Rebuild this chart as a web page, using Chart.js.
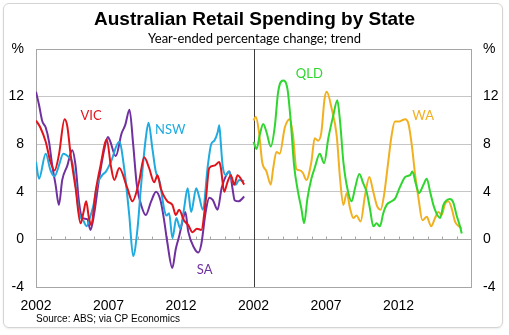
<!DOCTYPE html>
<html>
<head>
<meta charset="utf-8">
<script src="https://cdn.jsdelivr.net/npm/chart.js@4.4.0/dist/chart.umd.min.js"></script>
<style>
  html, body { margin: 0; padding: 0; background: #fff; }
  #wrap { position: relative; width: 509px; height: 335px; }
  #frame {
    position: absolute; left: 3px; top: 3px; width: 498px; height: 323px;
    border: 1px solid #d4d4d4; border-radius: 6px;
    box-shadow: 0 1px 2px rgba(0, 0, 0, 0.08);
  }
  canvas { position: absolute; left: 0; top: 0; }
</style>
</head>
<body>
<div id="wrap">
  <div id="frame"></div>
  <canvas id="retail" width="509" height="335"></canvas>
</div>
<script>
// year-ended % change, trend; [year, value]
const vic = [
  [2002.0, 10.0], [2002.3, 9.4], [2002.67, 8.2], [2003.0, 6.5], [2003.28, 5.8],
  [2003.58, 7.1], [2003.97, 10.1], [2004.16, 9.5], [2004.39, 7.1], [2004.73, 4.3],
  [2005.07, 1.35], [2005.28, 2.3], [2005.46, 3.2], [2005.65, 1.8], [2005.81, 1.2],
  [2006.11, 4.0], [2006.45, 6.2], [2006.88, 8.4], [2007.16, 6.2], [2007.4, 5.0],
  [2007.74, 6.0], [2008.3, 4.3], [2008.65, 3.2], [2009.1, 4.8], [2009.46, 6.9],
  [2009.8, 6.0], [2010.15, 4.8], [2010.38, 5.4], [2010.6, 4.3], [2011.06, 3.2],
  [2011.41, 2.9], [2011.64, 2.05], [2011.87, 2.5], [2012.2, 1.6], [2012.5, 1.2],
  [2012.8, 0.6], [2013.1, 0.9], [2013.4, 0.8], [2013.7, 3.2], [2013.95, 6.0],
  [2014.3, 6.2], [2014.64, 6.5], [2014.75, 6.0], [2014.98, 4.0], [2015.2, 4.8],
  [2015.44, 5.4], [2015.67, 4.6], [2015.9, 5.4], [2016.36, 4.6]
];
const nsw = [
  [2002.0, 6.5], [2002.21, 5.1], [2002.67, 7.2], [2003.0, 5.8], [2003.28, 5.3],
  [2003.58, 6.2], [2003.88, 7.2], [2004.27, 6.9], [2004.5, 6.5], [2004.73, 4.6],
  [2004.96, 2.3], [2005.3, 1.5], [2005.48, 1.1], [2005.71, 1.8], [2005.95, 2.8],
  [2006.22, 4.6], [2006.57, 5.4], [2006.82, 5.7], [2007.16, 6.5], [2007.74, 8.2],
  [2008.08, 6.0], [2008.43, 2.05], [2008.7, -1.4], [2009.0, 0.9], [2009.23, 4.3],
  [2009.57, 8.5], [2009.76, 9.8], [2010.03, 7.6], [2010.26, 5.7], [2010.54, 4.8],
  [2010.83, 2.6], [2011.0, 2.0], [2011.18, 2.2], [2011.41, 0.1], [2011.68, 1.8],
  [2011.95, 0.9], [2012.2, 2.5], [2012.46, 4.3], [2012.7, 2.3], [2013.05, 4.3],
  [2013.27, 3.5], [2013.5, 2.5], [2013.85, 6.2], [2014.08, 8.0], [2014.3, 8.3],
  [2014.53, 9.0], [2014.64, 9.6], [2014.75, 8.0], [2014.87, 6.2], [2015.1, 5.4],
  [2015.3, 5.7], [2015.55, 4.9], [2015.78, 4.6], [2016.0, 5.0], [2016.36, 4.9]
];
const sa = [
  [2002.0, 12.4], [2002.21, 11.3], [2002.44, 9.9], [2002.67, 9.4], [2002.9, 8.2],
  [2003.12, 6.2], [2003.35, 4.6], [2003.58, 2.9], [2003.81, 5.0], [2004.16, 6.2],
  [2004.5, 7.5], [2004.73, 6.2], [2004.96, 3.2], [2005.19, 1.8], [2005.53, 1.7],
  [2005.76, 0.8], [2005.99, 2.0], [2006.34, 5.0], [2006.68, 7.4], [2006.96, 8.6],
  [2007.1, 8.3], [2007.5, 7.0], [2007.9, 8.9], [2008.15, 9.6], [2008.45, 10.9],
  [2008.7, 8.0], [2008.95, 4.6], [2009.3, 2.7], [2009.57, 2.05], [2009.94, 3.2],
  [2010.28, 4.0], [2010.6, 3.2], [2010.85, 1.5], [2011.05, -0.2], [2011.4, -2.4],
  [2011.64, -0.8], [2011.9, 0.4], [2012.1, 1.5], [2012.3, 2.3], [2012.5, 0.65],
  [2012.9, -0.7], [2013.2, -1.1], [2013.4, -0.4], [2013.7, 2.3], [2013.95, 3.5],
  [2014.2, 3.3], [2014.52, 2.5], [2014.8, 4.3], [2015.12, 5.4], [2015.35, 5.7],
  [2015.55, 4.3], [2015.7, 3.3], [2015.98, 3.2], [2016.36, 3.6]
];
const qld = [
  [2002.0, 8.2], [2002.21, 7.6], [2002.45, 8.9], [2002.67, 9.7], [2002.9, 9.0],
  [2003.19, 7.8], [2003.47, 9.5], [2003.7, 12.4], [2004.04, 13.35], [2004.34, 12.65],
  [2004.57, 9.9], [2004.8, 6.2], [2005.07, 4.0], [2005.3, 2.6], [2005.49, 1.35],
  [2005.72, 3.45], [2005.99, 5.1], [2006.22, 6.0], [2006.57, 7.2], [2006.87, 6.4],
  [2007.16, 8.5], [2007.5, 10.4], [2007.78, 11.7], [2007.97, 9.9], [2008.2, 6.5],
  [2008.47, 4.3], [2008.77, 3.2], [2009.0, 4.3], [2009.3, 5.5], [2009.57, 4.7],
  [2009.8, 4.0], [2010.03, 2.6], [2010.26, 1.1], [2010.49, 1.35], [2010.72, 1.1],
  [2010.95, 2.2], [2011.18, 2.9], [2011.52, 3.2], [2011.77, 3.45], [2012.1, 4.4],
  [2012.46, 5.25], [2012.8, 5.4], [2012.96, 5.7], [2013.19, 4.7], [2013.42, 3.9],
  [2013.72, 4.6], [2013.95, 5.1], [2014.18, 4.0], [2014.48, 2.6], [2014.87, 1.8],
  [2015.1, 2.9], [2015.55, 3.4], [2015.78, 3.1], [2016.0, 2.05], [2016.24, 1.1],
  [2016.36, 0.5]
];
const wa = [
  [2002.0, 10.0], [2002.16, 10.3], [2002.38, 9.0], [2002.6, 6.5], [2002.9, 5.7],
  [2003.19, 4.6], [2003.35, 5.9], [2003.58, 7.35], [2003.81, 7.2], [2004.16, 9.4],
  [2004.5, 10.1], [2004.73, 8.7], [2004.96, 5.9], [2005.19, 5.8], [2005.4, 5.6],
  [2005.65, 5.0], [2005.99, 6.5], [2006.22, 8.5], [2006.45, 8.3], [2006.68, 9.0],
  [2006.9, 11.8], [2007.05, 12.4], [2007.39, 11.0], [2007.74, 8.7], [2007.97, 5.1],
  [2008.2, 2.9], [2008.43, 3.9], [2008.66, 2.6], [2008.88, 1.8], [2009.11, 2.0],
  [2009.39, 1.5], [2009.69, 3.7], [2009.99, 5.25], [2010.26, 4.0], [2010.54, 2.75],
  [2010.77, 2.5], [2011.0, 3.7], [2011.29, 6.5], [2011.52, 8.7], [2011.75, 9.9],
  [2012.05, 9.9], [2012.23, 10.0], [2012.46, 10.1], [2012.69, 9.7], [2012.92, 7.9],
  [2013.15, 5.4], [2013.38, 3.45], [2013.65, 1.6], [2013.95, 1.9], [2014.25, 1.1],
  [2014.52, 1.8], [2014.75, 2.3], [2014.98, 2.05], [2015.21, 3.0], [2015.44, 3.2],
  [2015.67, 2.6], [2015.9, 1.5], [2016.17, 1.1], [2016.36, 0.9]
];

const tickYears = [2002, 2007, 2012];
const yTicks = [-4, 0, 4, 8, 12, 16];
const firstYear = 2002;
const panelShift = 15; // right panel re-uses the same years, moved past the divider

const colours = {
  VIC: '#e2141b', NSW: '#1fabe0', SA: '#7030a0', QLD: '#2fd62f', WA: '#f1b020'
};

// where each state's name sits, in axis units
const stateLabels = [
  { text: 'VIC', year: 2005.8, value: 10.4 },
  { text: 'NSW', year: 2011.26, value: 9.25 },
  { text: 'SA', year: 2013.63, value: -2.55 },
  { text: 'QLD', year: 2005.85 + panelShift, value: 13.9 },
  { text: 'WA', year: 2013.7 + panelShift, value: 10.4 }
];

const axisFont = { family: "'Liberation Sans', Arial, sans-serif", size: 14 };
const borderGrey = '#a6a6a6';

function line(label, series, shift) {
  return {
    label,
    data: series.map(([yr, v]) => ({ x: yr + shift, y: v })),
    borderColor: colours[label],
    borderWidth: 2,
    pointRadius: 0,
    cubicInterpolationMode: 'monotone',
    fill: false
  };
}

// zero line with yearly ticks, plus the divider between the two panels
const zeroAxis = {
  id: 'zeroAxis',
  beforeDatasetsDraw(chart) {
    const { ctx, chartArea, scales: { x, y } } = chart;
    const y0 = Math.round(y.getPixelForValue(0)) + 0.5;
    ctx.save();
    ctx.lineWidth = 1;
    ctx.strokeStyle = borderGrey;
    ctx.beginPath();
    ctx.moveTo(chartArea.left, y0);
    ctx.lineTo(chartArea.right, y0);
    for (let yr = firstYear + 1; yr < firstYear + 2 * panelShift; yr++) {
      if (yr === firstYear + panelShift) continue;
      const px = Math.round(x.getPixelForValue(yr)) + 0.5;
      ctx.moveTo(px, y0);
      ctx.lineTo(px, y0 - 3);
    }
    ctx.stroke();
    const mid = Math.round(x.getPixelForValue(firstYear + panelShift)) + 0.5;
    ctx.strokeStyle = '#3c3c3c';
    ctx.beginPath();
    ctx.moveTo(mid, chartArea.top);
    ctx.lineTo(mid, chartArea.bottom);
    ctx.stroke();
    ctx.restore();
  }
};

const stateNames = {
  id: 'stateNames',
  afterDatasetsDraw(chart) {
    const { ctx, scales: { x, y } } = chart;
    ctx.save();
    ctx.font = "13px Lato, sans-serif";
    ctx.textAlign = 'center';
    ctx.textBaseline = 'middle';
    stateLabels.forEach(l => {
      ctx.fillStyle = colours[l.text];
      ctx.fillText(l.text, x.getPixelForValue(l.year), y.getPixelForValue(l.value));
    });
    ctx.restore();
  }
};

const yScale = (position, width) => ({
  position,
  min: -4,
  max: 16,
  afterBuildTicks: axis => { axis.ticks = yTicks.map(v => ({ value: v })); },
  afterFit: s => { s.width = width; },
  border: { display: true, color: borderGrey },
  grid: {
    display: position === 'left',
    drawTicks: false,
    color: c => {
      const v = c.tick.value;
      if (v === 4 || v === 8 || v === 12) return '#c6c6c6';
      if (v === 16) return borderGrey;
      return 'rgba(0,0,0,0)';
    }
  },
  ticks: {
    font: axisFont,
    color: '#000',
    padding: 12,
    callback: v => (v === 16 ? '%' : String(v))
  }
});

new Chart(document.getElementById('retail'), {
  type: 'line',
  data: {
    datasets: [
      line('VIC', vic, 0),
      line('NSW', nsw, 0),
      line('SA', sa, 0),
      line('QLD', qld, panelShift),
      line('WA', wa, panelShift)
    ]
  },
  options: {
    responsive: false,
    animation: false,
    layout: { padding: 0 },
    plugins: {
      legend: { display: false },
      tooltip: { enabled: false },
      title: {
        display: true,
        text: 'Australian Retail Spending by State',
        color: '#000',
        font: { family: "'Liberation Sans', Arial, sans-serif", size: 19, weight: 'bold' },
        padding: { top: 8, bottom: 0 }
      },
      subtitle: {
        display: true,
        text: 'Year-ended percentage change; trend',
        color: '#000',
        font: { family: 'Lato, sans-serif', size: 13 },
        padding: { top: 0, bottom: 2.6 }
      }
    },
    scales: {
      x: {
        type: 'linear',
        position: 'bottom',
        min: firstYear,
        max: firstYear + 2 * panelShift,
        afterBuildTicks: axis => {
          axis.ticks = tickYears.concat(tickYears.map(y => y + panelShift)).map(v => ({ value: v }));
        },
        afterFit: s => { s.height = 48; },
        grid: { display: false },
        border: { display: true, color: borderGrey },
        ticks: {
          font: axisFont,
          color: '#000',
          padding: 3,
          maxRotation: 0,
          autoSkip: false,
          callback: v => String(v >= firstYear + panelShift ? v - panelShift : v)
        },
        title: {
          display: true,
          text: 'Source: ABS; via CP Economics',
          align: 'start',
          color: '#000',
          font: { family: "'Liberation Sans', Arial, sans-serif", size: 10 },
          padding: { top: 0, bottom: 10 }
        }
      },
      y: yScale('left', 36),
      y2: yScale('right', 38)
    }
  },
  plugins: [zeroAxis, stateNames]
});
</script>
</body>
</html>
